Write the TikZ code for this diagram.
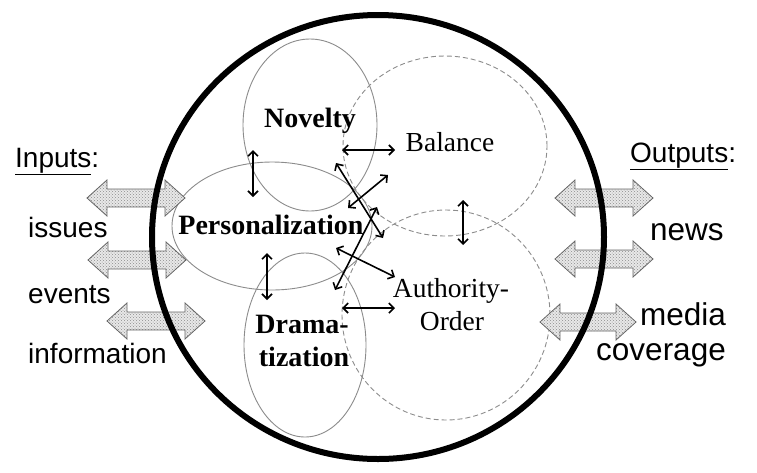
\documentclass[tikz,border=0pt]{standalone}
\usepackage{fontspec}
\setmainfont{Liberation Serif}
\newfontfamily\arialf{Liberation Sans}
\usetikzlibrary{shapes.geometric,arrows.meta,patterns}
\tikzset{
  thinell/.style={draw=gray!90, line width=0.9pt, ellipse, inner sep=0pt},
  dashell/.style={draw=gray!90, line width=0.9pt, dash pattern=on 5pt off 3pt, ellipse, inner sep=0pt},
  bigell/.style={draw=black, line width=6pt, ellipse, inner sep=0pt},
  rel/.style={line width=1.6pt, {Straight Barb[length=5pt,width=10pt]}-{Straight Barb[length=5pt,width=10pt]}},
  blockar/.style={draw=gray!80!black, line width=0.8pt, preaction={fill=gray!18}, pattern=crosshatch dots, pattern color=gray!90},
  sflab/.style={font=\arialf\fontsize{28}{32}\selectfont, inner sep=0pt},
  sfbig/.style={font=\arialf\fontsize{31.5}{35}\selectfont, inner sep=0pt},
  serlab/.style={font=\fontsize{27.5}{30}\selectfont, inner sep=0pt},
  serbold/.style={font=\bfseries\fontsize{28}{31}\selectfont, inner sep=0pt}
}
% block double arrow: center x, center y, half length
\newcommand{\blkarrow}[3]{%
  \path[blockar] ({#1-#3},#2) -- ++(20,-18) -- ++(0,9) -- ({#1+#3-20},{#2-9}) -- ++(0,-9) -- ({#1+#3},#2)
    -- ({#1+#3-20},{#2+18}) -- ++(0,-9) -- ({#1-#3+20},{#2+9}) -- ++(0,9) -- cycle;}
\begin{document}
\begin{tikzpicture}[x=1pt,y=-1pt]
\useasboundingbox[fill=white] (0,0) rectangle (757,472);

% component ellipses
\node[thinell, minimum width=134pt, minimum height=172pt] (nov) at (310,125) {};
\node[dashell, minimum width=204pt, minimum height=180pt] (bal) at (445,146) {};
\node[thinell, minimum width=200pt, minimum height=128pt] (pers) at (272,226) {};
\node[thinell, minimum width=122pt, minimum height=184pt] (dram) at (305,345) {};
\node[dashell, minimum width=208pt, minimum height=210pt] (auth) at (446,315) {};

% block arrows
\blkarrow{136}{198}{49}
\blkarrow{137}{260}{49}
\blkarrow{156}{321}{49}
\blkarrow{604}{198}{49}
\blkarrow{604}{259}{49}
\blkarrow{588}{322}{48}

% big ellipse
\node[bigell, minimum width=452pt, minimum height=444pt] (sys) at (378,237) {};

% labels
\node[serbold, anchor=base] (tnov) at (310,127) {Novelty};
\node[serlab, anchor=base] (tbal) at (450,151) {Balance};
\node[serbold, anchor=base] (tpers) at (271,234) {Personalization};
\node[serlab, anchor=base] (tauth1) at (451,297) {Authority-};
\node[serlab, anchor=base] (tauth2) at (452,330) {Order};
\node[serbold, anchor=base] (tdram1) at (302,333) {Drama-};
\node[serbold, anchor=base] (tdram2) at (304,366) {tization};

\node[sflab, anchor=base west] (inp) at (15,167) {\underline{Inputs}:};
\node[sflab, anchor=base west] (iss) at (28,237) {issues};
\node[sflab, anchor=base west] (evt) at (28,303) {events};
\node[sflab, anchor=base west] (inf) at (28,363) {information};
\node[sflab, anchor=base west] (outp) at (630,162) {\underline{Outputs}:};
\node[sfbig, anchor=base west] (news) at (650,240) {news};
\node[sfbig, anchor=base east] (med) at (726,325) {media};
\node[sfbig, anchor=base east] (cov) at (726,360) {coverage};

% relation arrow endpoints
\coordinate (a1) at (342,150); \coordinate (b1) at (395,150);
\coordinate (a2) at (253,150); \coordinate (b2) at (253,197);
\coordinate (a3) at (463,200); \coordinate (b3) at (463,245);
\coordinate (a4) at (267,253); \coordinate (b4) at (267,300);
\coordinate (a5) at (342,308); \coordinate (b5) at (395,308);
\coordinate (a6) at (336,163); \coordinate (b6) at (383,238);
\coordinate (a7) at (348,208); \coordinate (b7) at (388,175);
\coordinate (a8) at (335,290); \coordinate (b8) at (377,207);
\coordinate (a9) at (336,248); \coordinate (b9) at (395,277);
\foreach \i in {1,...,9} { \draw[rel] (a\i) -- (b\i); }
\end{tikzpicture}
\end{document}
